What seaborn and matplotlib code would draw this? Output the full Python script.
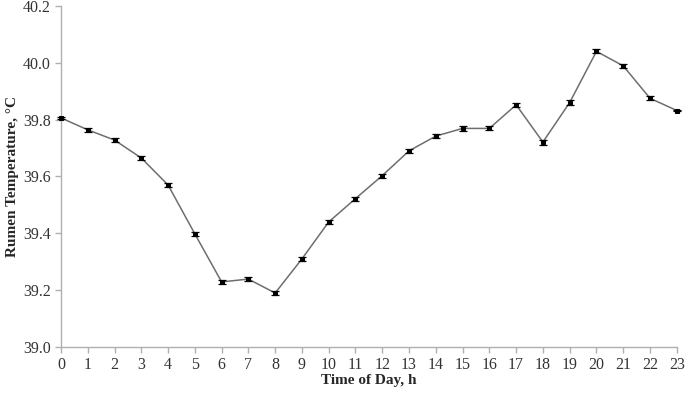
import numpy as np
import pandas as pd
import matplotlib
matplotlib.use("Agg")
import matplotlib.pyplot as plt
import seaborn as sns

hours = list(range(24))
temp = [39.806, 39.764, 39.728, 39.665, 39.570, 39.398, 39.229, 39.239,
        39.190, 39.310, 39.440, 39.522, 39.603, 39.690, 39.742, 39.769,
        39.769, 39.852, 39.721, 39.860, 40.040, 39.989, 39.875, 39.832]
sem = [0.004, 0.007, 0.007, 0.006, 0.007, 0.007, 0.008, 0.007,
       0.008, 0.008, 0.008, 0.007, 0.007, 0.007, 0.007, 0.008,
       0.007, 0.008, 0.009, 0.008, 0.007, 0.007, 0.007, 0.003]

df = pd.DataFrame({"Hour": hours, "Temp": temp, "SEM": sem})

sns.set_style("white")
plt.rcParams["font.family"] = ["Liberation Serif", "DejaVu Serif"]

fig = plt.figure(figsize=(6.85, 3.93), dpi=100)
ax = fig.add_axes([0.089, 0.117, 0.899, 0.868])

sns.lineplot(data=df, x="Hour", y="Temp", ax=ax, color="#6e6e6e", linewidth=1.1,
             marker="s", markersize=3.3, markerfacecolor="black", markeredgecolor="black",
             clip_on=False, zorder=4)
eb = ax.errorbar(df["Hour"], df["Temp"], yerr=df["SEM"], fmt="none", ecolor="black",
                 elinewidth=0.9, capsize=3, capthick=0.9, zorder=5)
for art in eb.lines[1] + eb.lines[2]:
    art.set_clip_on(False)

ax.set_xlim(0, 23)
ax.set_ylim(39.0, 40.2)
ax.set_xticks(hours)
ax.set_yticks(np.arange(39.0, 40.21, 0.2))
ax.set_yticklabels([f"{v:.1f}" for v in np.arange(39.0, 40.21, 0.2)])

for side in ["top", "right"]:
    ax.spines[side].set_visible(False)
for side in ["left", "bottom"]:
    ax.spines[side].set_color("#b0b0b0")
    ax.spines[side].set_linewidth(1.0)

ax.tick_params(axis="both", which="major", direction="out", length=4, width=1.0,
               color="#b0b0b0", labelsize=11.5, labelcolor="#333333", left=True, bottom=True)
ax.tick_params(axis="x", pad=3)

ax.set_xlabel("Time of Day, h", fontsize=11, fontweight="bold", labelpad=1)
ax.set_ylabel("Rumen Temperature, °C", fontsize=11, fontweight="bold", labelpad=3)

fig.savefig("out.png", dpi=100)
